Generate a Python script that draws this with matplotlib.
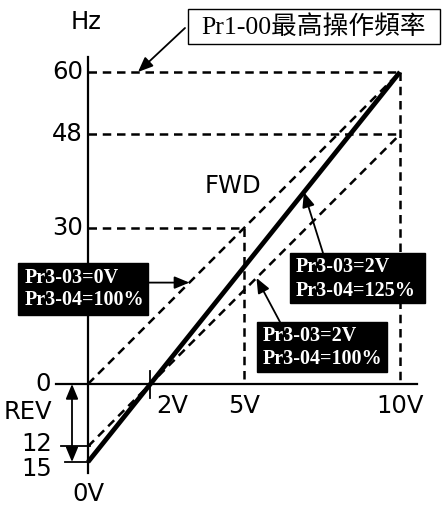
import numpy as np
import matplotlib
matplotlib.use("Agg")
import matplotlib.pyplot as plt
from matplotlib.patches import Rectangle

# ---- data -------------------------------------------------------------
volts = [0, 10]                      # analog input range (V)
hz_0v_100 = [0, 60]                  # Pr3-03=0V, Pr3-04=100%
hz_2v_125 = [-15, 60]                # Pr3-03=2V, Pr3-04=125%
hz_2v_100 = [-12, 48]                # Pr3-03=2V, Pr3-04=100%

x_ticks = [0, 2, 5, 10]
x_labels = ["0V", "2V", "5V", "10V"]
y_ticks = [60, 48, 30, 0, -12, -15]
y_labels = ["60", "48", "30", "0", "12", "15"]

max_freq = 60
guide_48 = 48
half_point = (5, 30)

# ---- layout helpers (pixel grid of a 442x509 canvas) -------------------
W, H = 442, 509
X0, Y0 = 88, 384          # pixel position of (0 V, 0 Hz)
SX, SY = 31.2, 5.2        # pixels per volt / per hertz


def v(px):
    return (px - X0) / SX


def hz(py):
    return (Y0 - py) / SY


fig = plt.figure(figsize=(W / 100, H / 100), dpi=100)
ax = fig.add_axes([0, 0, 1, 1])
ax.set_xlim(v(0), v(W))
ax.set_ylim(hz(H), hz(0))
ax.axis("off")

K = "black"
sans = "DejaVu Sans"
serif = "Liberation Serif"
dash = (0, (3.4, 2.3))
dlw = 1.8

# axes
ax.plot([0, 0], [hz(473), hz(57)], color=K, lw=1.6)
ax.plot([v(56), v(417)], [0, 0], color=K, lw=1.6)

# guide lines
ax.plot([0, volts[1]], [max_freq, max_freq], color=K, lw=dlw, ls=dash)
ax.plot([volts[1], volts[1]], [max_freq, 0], color=K, lw=dlw, ls=dash)
ax.plot([0, volts[1]], [guide_48, guide_48], color=K, lw=dlw, ls=dash)
ax.plot([0, half_point[0]], [half_point[1], half_point[1]], color=K, lw=dlw, ls=dash)
ax.plot([half_point[0], half_point[0]], [half_point[1], 0], color=K, lw=dlw, ls=dash)

# characteristic lines
ax.plot(volts, hz_0v_100, color=K, lw=dlw, ls=dash)
ax.plot(volts, hz_2v_100, color=K, lw=dlw, ls=dash)
ax.plot(volts, hz_2v_125, color=K, lw=3.4, solid_capstyle="butt")

# small tick marks
ax.plot([v(61), v(90)], [-12, -12], color=K, lw=1.3)
ax.plot([v(65), 0], [-15, -15], color=K, lw=1.3)
ax.plot([2, 2], [hz(371), hz(398)], color=K, lw=1.3)

# tick labels
fs = 17.5
for t, lab in zip(y_ticks, y_labels):
    if t == 0:
        ax.text(v(51), t, lab, ha="right", va="center", fontsize=fs, family=sans)
    elif t == -12:
        ax.text(v(52), hz(444), lab, ha="right", va="center", fontsize=fs, family=sans)
    elif t == -15:
        ax.text(v(52), hz(469), lab, ha="right", va="center", fontsize=fs, family=sans)
    else:
        ax.text(v(83), t, lab, ha="right", va="center", fontsize=fs, family=sans)

for t, lab in zip(x_ticks, x_labels):
    if t == 0:
        ax.text(0, hz(494), lab, ha="center", va="center", fontsize=fs, family=sans)
    elif t == 2:
        ax.text(v(172), hz(406), lab, ha="center", va="center", fontsize=fs, family=sans)
    else:
        ax.text(t, hz(406), lab, ha="center", va="center", fontsize=fs, family=sans)

ax.text(v(86), hz(22), "Hz", ha="center", va="center", fontsize=fs, family=sans)
ax.text(v(233), hz(186), "FWD", ha="center", va="center", fontsize=fs, family=sans)
ax.text(v(28), hz(412), "REV", ha="center", va="center", fontsize=fs, family=sans)

# REV span arrow
arrow = dict(arrowstyle="<|-|>,head_length=0.6,head_width=0.25", color=K, lw=1.3,
             mutation_scale=15, shrinkA=0, shrinkB=0)
ax.annotate("", xy=(v(72), hz_2v_125[0]), xytext=(v(72), 0), arrowprops=arrow)

one = dict(arrowstyle="-|>,head_length=0.6,head_width=0.25", color=K, lw=1.3,
           mutation_scale=15, shrinkA=0, shrinkB=0)

# max-frequency callout
ax.add_patch(Rectangle((v(188), hz(44)), v(440) - v(188), hz(9) - hz(44),
                       facecolor="white", edgecolor=K, lw=1.0, zorder=3))
ax.text((v(188) + v(440)) / 2, hz(27), "Pr1-00最高操作頻率", ha="center", va="center",
        fontsize=18.5, family=[serif, "Noto Sans CJK TC"], zorder=4)
ax.annotate("", xy=(v(138), max_freq), xytext=(v(185), hz(28)), arrowprops=one)


def black_box(x0, y0, x1, y1, lines, tx, ty):
    ax.add_patch(Rectangle((v(x0), hz(y1)), v(x1) - v(x0), hz(y0) - hz(y1),
                           facecolor=K, edgecolor=K, zorder=3))
    for line, yy in zip(lines, ty):
        ax.text(v(tx), hz(yy), line, ha="left", va="center", color="white",
                fontsize=14.5, family=serif, weight="bold", zorder=4)


# Pr3-03=0V / 100 %
black_box(18, 263, 148, 315, ["Pr3-03=0V", "Pr3-04=100%"], 25, [278, 300])
x_a = 3.25
ax.annotate("", xy=(x_a, np.interp(x_a, volts, hz_0v_100)),
            xytext=(v(148), np.interp(x_a, volts, hz_0v_100)), arrowprops=one)

# Pr3-03=2V / 125 %
black_box(290, 253, 425, 303, ["Pr3-03=2V", "Pr3-04=125%"], 296, [267, 291])
x_b = 6.92
ax.annotate("", xy=(x_b, np.interp(x_b, volts, hz_2v_125)),
            xytext=(v(323), hz(253)), arrowprops=one)

# Pr3-03=2V / 100 %
black_box(257, 322, 387, 372, ["Pr3-03=2V", "Pr3-04=100%"], 263, [336, 359])
x_c = 5.4
ax.annotate("", xy=(x_c, np.interp(x_c, volts, hz_2v_100)),
            xytext=(v(280), hz(322)), arrowprops=one)

fig.savefig("out.png", dpi=100)
